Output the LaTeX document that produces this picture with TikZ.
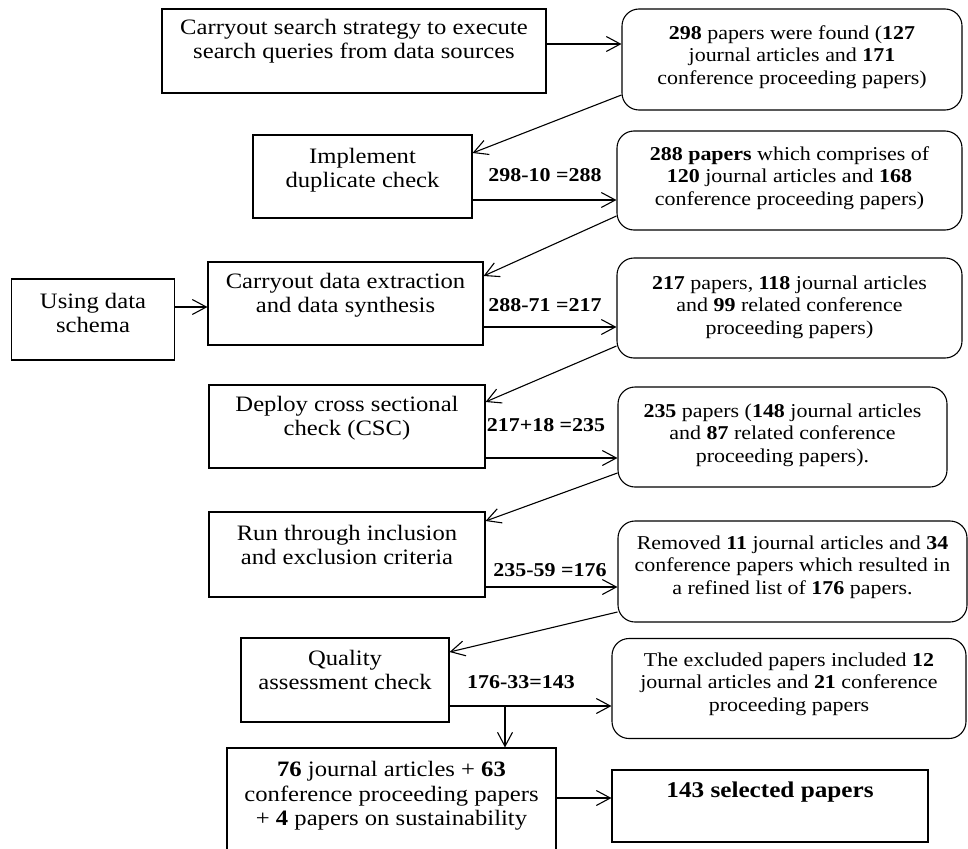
\documentclass[tikz,border=0pt]{standalone}
\usepackage{fontspec}
\setmainfont{Liberation Serif}[FakeStretch=1.12]
\usetikzlibrary{arrows.meta,calc}
\begin{document}
\begin{tikzpicture}[x=1pt,y=-1pt,
  sqbox/.style={draw, line width=1.1pt, inner sep=0pt},
  rbox/.style={draw, line width=1.1pt, rounded corners=17pt, inner sep=0pt},
  bigtxt/.style={align=center, font=\fontsize{22}{24.5}\selectfont, inner sep=0pt},
  smalltxt/.style={align=center, font=\fontsize{19.6}{22.5}\selectfont, inner sep=0pt},
  lbl/.style={font=\fontsize{19.6}{22}\selectfont\bfseries, inner sep=0pt},
  arr/.style={draw, line width=1.1pt, -{Straight Barb[length=14pt,width=15pt,line width=1.1pt]}}
]
\useasboundingbox[fill=white] (0,0) rectangle (968,848);
% boxes
\node[sqbox, minimum width=384pt, minimum height=84pt] (b1) at (354,51) {};
\node[rbox, minimum width=340pt, minimum height=101pt] (A) at (792,59.5) {};
\node[sqbox, minimum width=219pt, minimum height=83pt] (b2) at (362.5,176.5) {};
\node[rbox, minimum width=345pt, minimum height=99pt] (B) at (789.5,180.5) {};
\node[sqbox, minimum width=163pt, minimum height=81pt] (b0) at (93,319.5) {};
\node[sqbox, minimum width=275pt, minimum height=83pt] (b3) at (345.5,303.5) {};
\node[rbox, minimum width=345pt, minimum height=100pt] (C) at (789.5,308) {};
\node[sqbox, minimum width=276pt, minimum height=83pt] (b4) at (347,426.5) {};
\node[rbox, minimum width=329pt, minimum height=100pt] (D) at (782.5,437) {};
\node[sqbox, minimum width=276pt, minimum height=85pt] (b5) at (347,554.5) {};
\node[rbox, minimum width=349pt, minimum height=101pt] (E) at (792.5,571.5) {};
\node[sqbox, minimum width=208pt, minimum height=84pt] (b6) at (345,680) {};
\node[rbox, minimum width=354pt, minimum height=100pt] (F) at (789,688.5) {};
\node[sqbox, minimum width=329pt, minimum height=104pt] (b7) at (391.5,800) {};
\node[sqbox, minimum width=316pt, minimum height=72pt] (b8) at (770,806) {};
% texts
\node[bigtxt] (t1) at (354,41) {Carryout search strategy to execute\\search queries from data sources};
\node[smalltxt] (tA) at (792,57) {\textbf{298} papers were found (\textbf{127}\\journal articles and \textbf{171}\\conference proceeding papers)};
\node[bigtxt] (t2) at (362.5,170) {Implement\\duplicate check};
\node[smalltxt] (tB) at (789.5,178) {\textbf{288 papers} which comprises of\\\textbf{120} journal articles and \textbf{168}\\conference proceeding papers)};
\node[bigtxt] (t0) at (93,313) {Using data\\schema};
\node[bigtxt] (t3) at (345.5,295) {Carryout data extraction\\and data synthesis};
\node[smalltxt] (tC) at (789.5,307) {\textbf{217} papers, \textbf{118} journal articles\\and \textbf{99} related conference\\proceeding papers)};
\node[bigtxt] (t4) at (347,418) {Deploy cross sectional\\check (CSC)};
\node[smalltxt] (tD) at (782.5,435) {\textbf{235} papers (\textbf{148} journal articles\\and \textbf{87} related conference\\proceeding papers).};
\node[bigtxt] (t5) at (347,545) {Run through inclusion\\and exclusion criteria};
\node[smalltxt] (tE) at (792.5,567) {Removed \textbf{11} journal articles and \textbf{34}\\conference papers which resulted in\\a refined list of \textbf{176} papers.};
\node[bigtxt] (t6) at (345,670) {Quality\\assessment check};
\node[smalltxt] (tF) at (789,684) {The excluded papers included \textbf{12}\\journal articles and \textbf{21} conference\\proceeding papers};
\node[bigtxt] (t7) at (391.5,796) {\textbf{76} journal articles + \textbf{63}\\conference proceeding papers\\+ \textbf{4} papers on sustainability};
\node[bigtxt, font=\fontsize{22.5}{24.5}\selectfont] (t8) at (770,792) {\textbf{143 selected papers}};
% labels
\node[lbl] (l1) at (545,175) {298-10 =288};
\node[lbl] (l2) at (545,305) {288-71 =217};
\node[lbl] (l3) at (546,425) {217+18 =235};
\node[lbl] (l4) at (550,570) {235-59 =176};
\node[lbl] (l5) at (521,682) {176-33=143};
% horizontal arrows
\draw[arr] (b1.east |- 0,44) -- (A.west |- 0,44);
\draw[arr] (b2.east |- 0,200) -- (B.west |- 0,200);
\draw[arr] (b0.east |- 0,307) -- (b3.west |- 0,307);
\draw[arr] (b3.east |- 0,327) -- (C.west |- 0,327);
\draw[arr] (b4.east |- 0,458) -- (D.west |- 0,458);
\draw[arr] (b5.east |- 0,587) -- (E.west |- 0,587);
\draw[arr] (b6.east |- 0,706) -- (F.west |- 0,706);
\draw[arr] (b7.east |- 0,798) -- (b8.west |- 0,798);
% diagonal arrows
\draw[arr] (A.west |- 0,95) -- (b2.east |- 0,153);
\draw[arr] (B.west |- 0,216) -- (b3.east |- 0,276);
\draw[arr] (C.west |- 0,346) -- (b4.east |- 0,402);
\draw[arr] (D.west |- 0,473) -- (b5.east |- 0,521);
\draw[arr] (E.west |- 0,612) -- (b6.east |- 0,652);
% split
\coordinate (split) at (505,706);
\draw[arr] (split) -- (split |- b7.north);
\end{tikzpicture}
\end{document}
